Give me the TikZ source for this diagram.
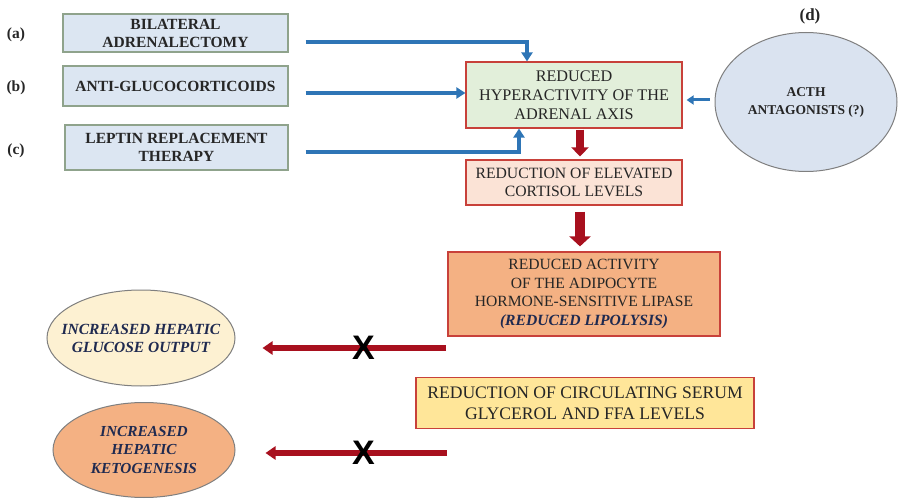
\documentclass[tikz,border=0pt]{standalone}
\usepackage{fontspec}
\setmainfont{Liberation Serif}
\newfontfamily\xfont{Liberation Sans}
\usetikzlibrary{arrows.meta,calc,shapes.geometric}
\definecolor{bxblue}{HTML}{DCE6F2}
\definecolor{bxblueedge}{HTML}{8FA38C}
\definecolor{bxgreen}{HTML}{E2EFDA}
\definecolor{bxpink}{HTML}{FBE3D6}
\definecolor{bxorange}{HTML}{F4B183}
\definecolor{bxyellow}{HTML}{FFE699}
\definecolor{edgered}{HTML}{C8413A}
\definecolor{elblue}{HTML}{DAE3F0}
\definecolor{elyellow}{HTML}{FDF1D2}
\definecolor{elgray}{HTML}{7F7F7F}
\definecolor{arblue}{HTML}{2E75B6}
\definecolor{arred}{HTML}{A8101E}
\definecolor{navy}{HTML}{1F2A50}
\definecolor{txt}{HTML}{262626}
\begin{document}
\begin{tikzpicture}[x=1pt,y=-1pt,
  treatbox/.style={draw=bxblueedge,fill=bxblue,line width=1.2pt,inner sep=0pt,align=center,text=txt,font=\bfseries\fontsize{15.5}{18}\selectfont},
  effbox/.style={draw=edgered,line width=1.2pt,inner sep=0pt,align=center,text=txt,font=\fontsize{16.2}{19}\selectfont},
  oval/.style={ellipse,draw=elgray,line width=1pt,inner xsep=-30pt,inner ysep=-6pt,align=center},
  lbl/.style={font=\bfseries\fontsize{15.5}{17}\selectfont,text=txt},
  bluearrow/.style={draw=arblue,line width=4pt,-{Triangle[length=9pt,width=11pt]}},
  reddown/.style={draw=arred,-{Triangle[length=10pt,width=18pt]}},
  redleft/.style={draw=arred,line width=6pt,-{Triangle[length=10pt,width=13pt]}},
  xmark/.style={font=\xfont\bfseries\fontsize{34}{34}\selectfont,text=black,inner sep=0pt}
]
\useasboundingbox (0,0) rectangle (898,500);

% treatment boxes
\node[treatbox,minimum width=225pt,minimum height=38pt] (boxa) at (175.5,33) {BILATERAL\\ADRENALECTOMY};
\node[treatbox,minimum width=225pt,minimum height=40pt] (boxb) at (175.5,86) {ANTI-GLUCOCORTICOIDS};
\node[treatbox,minimum width=223pt,minimum height=45pt] (boxc) at (176.5,147.5) {LEPTIN REPLACEMENT\\THERAPY};
\node[lbl] (la) at (16,35) {(a)};
\node[lbl] (lb) at (16,88) {(b)};
\node[lbl] (lc) at (16,151) {(c)};
\node[lbl,font=\bfseries\fontsize{17}{19}\selectfont] (ld) at (810,16) {(d)};

% effect boxes
\node[effbox,fill=bxgreen,minimum width=216pt,minimum height=66pt] (green) at (574,95) {REDUCED\\HYPERACTIVITY OF THE\\ADRENAL AXIS};
\node[effbox,fill=bxpink,minimum width=216pt,minimum height=45pt,font=\fontsize{15.7}{18}\selectfont] (pink) at (574,182.5) {REDUCTION OF ELEVATED\\CORTISOL LEVELS};
\node[effbox,fill=bxorange,minimum width=272pt,minimum height=84pt,font=\fontsize{15.6}{18.7}\selectfont] (orange) at (584,294) {REDUCED ACTIVITY\\OF THE ADIPOCYTE\\HORMONE-SENSITIVE LIPASE\\{\color{navy}\bfseries\itshape (REDUCED LIPOLYSIS)}};
\node[effbox,fill=bxyellow,minimum width=338pt,minimum height=51pt,font=\fontsize{17.6}{21}\selectfont] (yellow) at (585,403) {REDUCTION OF CIRCULATING SERUM\\GLYCEROL AND FFA LEVELS};

% ellipses
\node[oval,fill=elblue,minimum width=182pt,minimum height=139pt,font=\bfseries\fontsize{13.5}{18}\selectfont,text=txt] (dell) at (806,102) {ACTH\\ANTAGONISTS (?)};
\node[oval,fill=elyellow,minimum width=188pt,minimum height=96pt,font=\bfseries\itshape\fontsize{15.5}{18}\selectfont,text=navy] (glu) at (141,338) {INCREASED HEPATIC\\GLUCOSE OUTPUT};
\node[oval,fill=bxorange,minimum width=182pt,minimum height=95pt,font=\bfseries\itshape\fontsize{15.3}{18.5}\selectfont,text=navy] (keto) at (144,450) {INCREASED\\HEPATIC\\KETOGENESIS};

% blue arrows
\draw[bluearrow] ($(boxa.east)+(17,9)$) -| ($(green.north)+(-47,0)$);
\draw[bluearrow] ($(boxb.east)+(17,7)$) -- ($(green.west)+(0,-2)$);
\draw[bluearrow] ($(boxc.east)+(17,4.5)$) -| ($(green.south)+(-55,0)$);
\draw[bluearrow,line width=3pt,-{Triangle[length=7pt,width=9pt]}] ($(dell.west)+(-5,-2)$) -- ($(green.east)+(4,5)$);

% red down arrows
\draw[reddown,line width=8pt,-{Triangle[length=9pt,width=17pt]}] ($(green.south)+(6,1)$) -- ($(pink.north)+(6,-3)$);
\draw[reddown,line width=10pt,-{Triangle[length=10pt,width=21pt]}] ($(pink.south)+(6,6)$) -- ($(orange.north)+(-4,-5)$);

% red left arrows with crosses
\coordinate (r1s) at (446,348);
\coordinate (r2s) at (447,453);
\draw[redleft] (r1s) -- ($(glu.east)+(27,10)$) node[pos=0.45,xmark] (x1) {X};
\draw[redleft] (r2s) -- ($(keto.east)+(30,3)$) node[pos=0.46,xmark] (x2) {X};
\end{tikzpicture}
\end{document}
